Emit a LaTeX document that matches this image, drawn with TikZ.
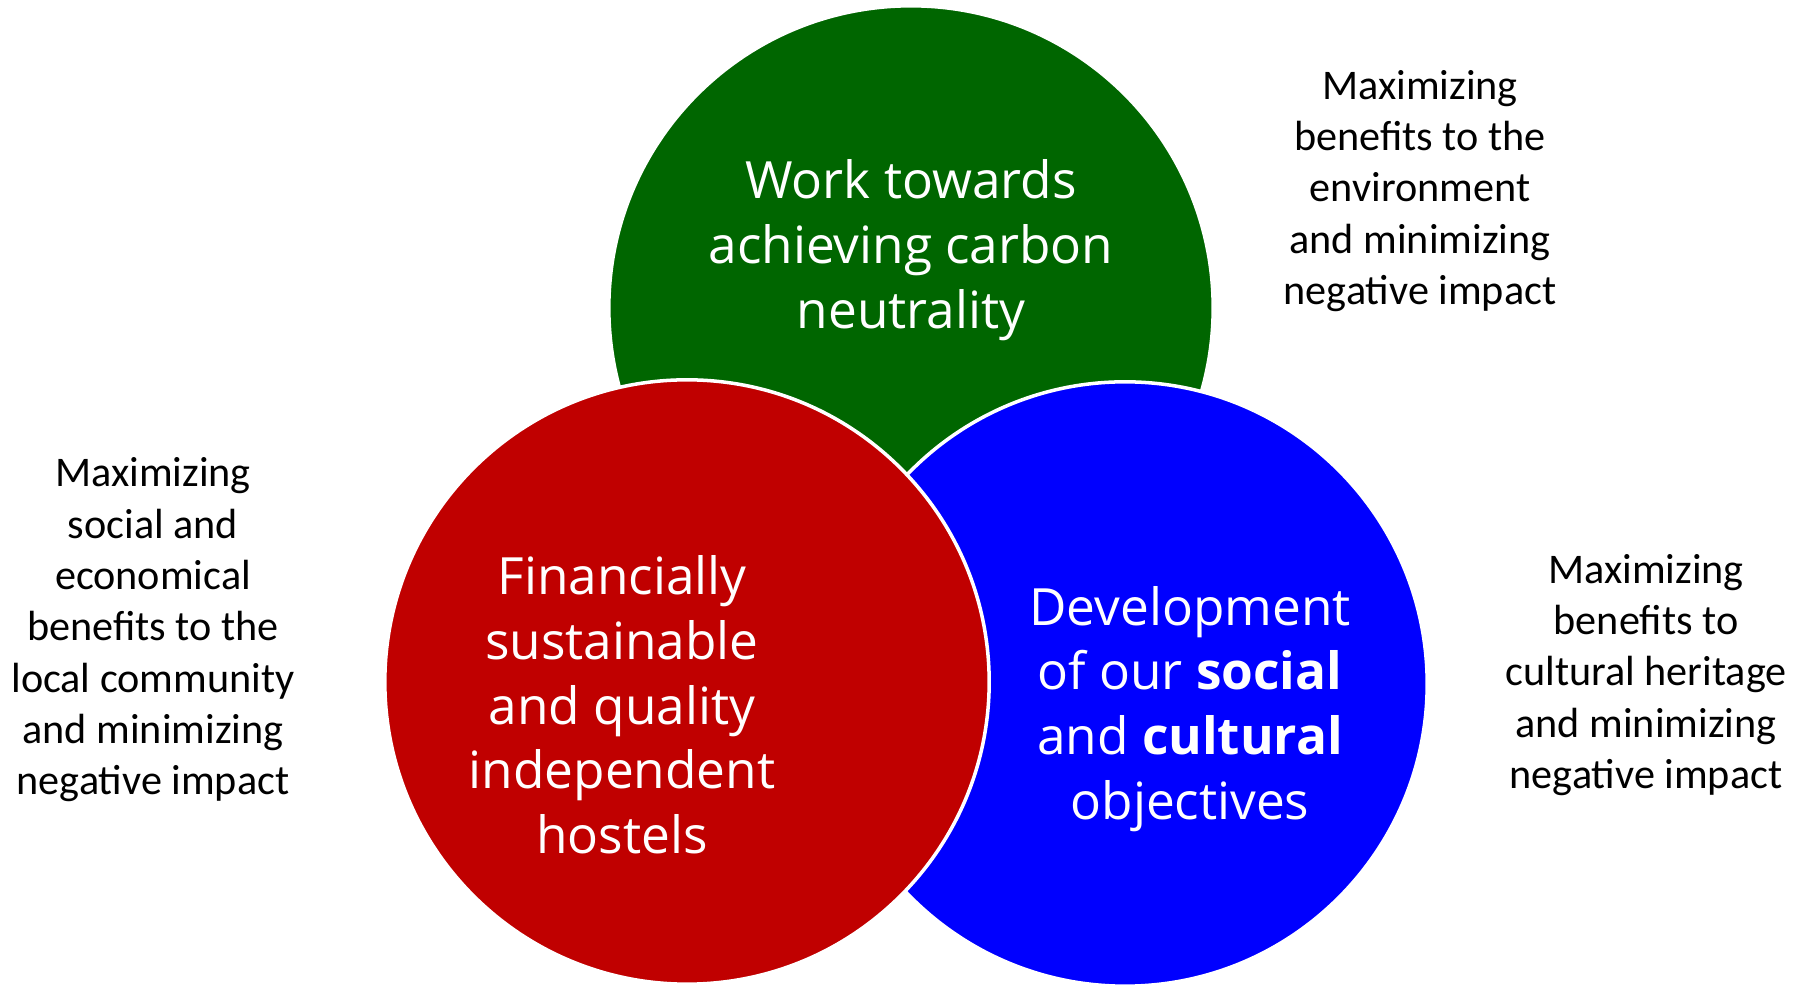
\documentclass[tikz,border=0pt]{standalone}
\usepackage{fontspec}
\setmainfont{Carlito}
\newfontfamily\ringfont{Open Sans}

\definecolor{carbongreen}{RGB}{0,102,0}
\definecolor{hostelred}{RGB}{192,0,0}
\definecolor{culturblue}{RGB}{0,0,255}

\begin{document}
\begin{tikzpicture}[x=0.01cm,y=-0.01cm,
    ring/.style={circle,draw=white,line width=1pt,inner sep=0pt,minimum size=6.04cm},
    inring/.style={align=center,text=white,font=\ringfont\fontsize{14.6}{18.4}\selectfont},
    aside/.style={align=center,text=black,font=\fontsize{12}{14.6}\selectfont}]
    \useasboundingbox (0,0) rectangle (1804,986);

    % the three circles, back to front
    \node[ring,fill=carbongreen] (green) at (911,308) {};
    \node[ring,fill=culturblue] (blue) at (1125,684) {};
    \node[ring,fill=hostelred] (red) at (687,682) {};

    % texts inside
    \node[inring] (greentext) at (911,250) {Work towards\\achieving carbon\\neutrality};
    \node[inring] (redtext) at (622,705) {Financially\\sustainable\\and quality\\independent\\hostels};
    \node[inring] (bluetext) at (1190,709) {Development\\of our \textbf{social}\\and \textbf{cultural}\\objectives};

    % texts beside
    \node[aside] (envnote) at (1420,191) {Maximizing\\benefits to the\\environment\\and minimizing\\negative impact};
    \node[aside] (localnote) at (153,630) {Maximizing\\social and\\economical\\benefits to the\\local community\\and minimizing\\negative impact};
    \node[aside] (heritnote) at (1646,675) {Maximizing\\benefits to\\cultural heritage\\and minimizing\\negative impact};
\end{tikzpicture}
\end{document}
